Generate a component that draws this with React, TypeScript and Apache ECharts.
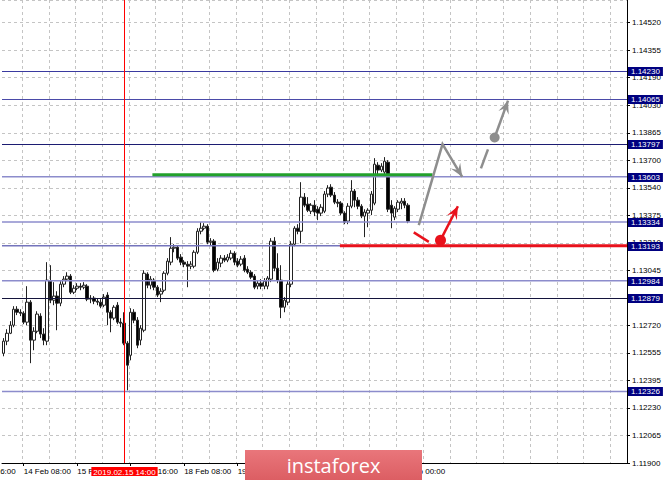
import React, { useEffect, useRef } from "react";
import * as echarts from "echarts";

// ---- price data (EURUSD H1) ----
const openPrices = [
  1.12553, 1.12625, 1.12672, 1.1272, 1.12815, 1.12797, 1.12791, 1.12738, 1.12857, 1.12631,
  1.12684, 1.12774, 1.12667, 1.12625, 1.12982, 1.12869, 1.12893, 1.12851, 1.12964, 1.12994,
  1.13012, 1.12916, 1.1294, 1.12952, 1.12946, 1.12952, 1.12875, 1.12881, 1.12863, 1.12857,
  1.12839, 1.12899, 1.12797, 1.12762, 1.12839, 1.12738, 1.12732, 1.12613, 1.12541, 1.12797,
  1.1275, 1.12631, 1.1269, 1.13024, 1.12958, 1.12988, 1.12946, 1.12905, 1.12928, 1.13029,
  1.13095, 1.13178, 1.13184, 1.13125, 1.13095, 1.13083, 1.13071, 1.13071, 1.13154, 1.13279,
  1.13297, 1.13309, 1.13214, 1.1322, 1.13053, 1.13089, 1.13119, 1.13107, 1.13119, 1.13148,
  1.13101, 1.13083, 1.13119, 1.13053, 1.13035, 1.13012, 1.12952, 1.1297, 1.12952, 1.12952,
  1.12994, 1.1322, 1.13059, 1.12988, 1.12827, 1.12857, 1.12964, 1.13202, 1.13297, 1.13279,
  1.13482, 1.1344, 1.13398, 1.13434, 1.1341, 1.13387, 1.13398, 1.135, 1.13541, 1.13494,
  1.13452, 1.13446, 1.13387, 1.13339, 1.13428, 1.13518, 1.13464, 1.13428, 1.13369, 1.13387,
  1.13404, 1.13446, 1.13672, 1.13643, 1.13631, 1.1369, 1.13434, 1.13363, 1.1341, 1.13446,
  1.13458, 1.13434,
];
const closePrices = [
  1.12625, 1.12672, 1.1272, 1.12815, 1.12797, 1.12791, 1.12738, 1.12857, 1.12631, 1.12684,
  1.12786, 1.12667, 1.12631, 1.12988, 1.12869, 1.12893, 1.12851, 1.12964, 1.12994, 1.13012,
  1.12916, 1.1294, 1.12952, 1.12946, 1.12958, 1.12875, 1.12881, 1.12863, 1.12857, 1.12833,
  1.12887, 1.12797, 1.12762, 1.12827, 1.12738, 1.12732, 1.12613, 1.12482, 1.12797, 1.1275,
  1.12601, 1.12702, 1.13029, 1.12958, 1.12994, 1.12946, 1.12899, 1.12922, 1.13029, 1.13101,
  1.13178, 1.13184, 1.13119, 1.13095, 1.13083, 1.13071, 1.13083, 1.13154, 1.13279, 1.13297,
  1.13309, 1.13214, 1.1322, 1.13047, 1.13095, 1.13119, 1.13107, 1.13125, 1.13148, 1.13095,
  1.13077, 1.13113, 1.13047, 1.13035, 1.13006, 1.12946, 1.1297, 1.12952, 1.12982, 1.13,
  1.1322, 1.13059, 1.12988, 1.12827, 1.12869, 1.12964, 1.13202, 1.13297, 1.13279, 1.13482,
  1.13434, 1.13404, 1.13434, 1.13393, 1.13387, 1.13422, 1.135, 1.13536, 1.13494, 1.13452,
  1.13446, 1.13387, 1.13333, 1.13428, 1.13518, 1.13464, 1.13428, 1.13369, 1.13393, 1.13404,
  1.135, 1.13678, 1.13643, 1.13666, 1.13696, 1.1341, 1.13387, 1.13416, 1.13452, 1.13458,
  1.13434, 1.13339,
];
const highPrices = [
  1.12643, 1.12696, 1.12744, 1.12833, 1.12833, 1.12815, 1.12803, 1.12952, 1.12869, 1.12708,
  1.12803, 1.12791, 1.12702, 1.13095, 1.13077, 1.12976, 1.12922, 1.12982, 1.13012, 1.13035,
  1.13024, 1.12958, 1.1297, 1.1297, 1.12976, 1.12964, 1.12899, 1.12893, 1.12881, 1.12875,
  1.12905, 1.12916, 1.12809, 1.12839, 1.12857, 1.12762, 1.12797, 1.12625, 1.12821, 1.12815,
  1.12768, 1.1272, 1.13047, 1.13035, 1.13012, 1.13, 1.12958, 1.1294, 1.13041, 1.13119,
  1.13244, 1.13202, 1.13196, 1.13143, 1.13107, 1.13101, 1.13101, 1.13166, 1.13297, 1.13333,
  1.13327, 1.13321, 1.13238, 1.13232, 1.13119, 1.13137, 1.13137, 1.13143, 1.13166, 1.1316,
  1.13119, 1.13131, 1.13137, 1.13071, 1.13047, 1.13024, 1.12988, 1.12994, 1.13, 1.13012,
  1.13238, 1.13244, 1.13148, 1.13077, 1.12887, 1.12982, 1.1322, 1.13309, 1.13321, 1.13571,
  1.13506, 1.13482, 1.13446, 1.13464, 1.13428, 1.1344, 1.13518, 1.13553, 1.13559, 1.13512,
  1.1347, 1.13458, 1.13398, 1.13446, 1.13583, 1.1353, 1.13482, 1.1344, 1.1341, 1.13416,
  1.13518, 1.13714, 1.1369, 1.13684, 1.1372, 1.13702, 1.13464, 1.13428, 1.13464, 1.13476,
  1.13476, 1.13446,
];
const lowPrices = [
  1.12535, 1.12601, 1.12667, 1.12708, 1.1278, 1.12774, 1.12726, 1.1272, 1.12494, 1.12571,
  1.12672, 1.12643, 1.12601, 1.12601, 1.12851, 1.12839, 1.1269, 1.12833, 1.12946, 1.12982,
  1.12905, 1.12905, 1.12928, 1.12928, 1.12934, 1.12863, 1.12851, 1.12845, 1.12839, 1.12821,
  1.12827, 1.1272, 1.12678, 1.1275, 1.12726, 1.12708, 1.12601, 1.12332, 1.12511, 1.12732,
  1.12583, 1.12601, 1.12678, 1.1294, 1.12934, 1.12928, 1.12887, 1.12857, 1.12916, 1.13017,
  1.13077, 1.13154, 1.13107, 1.13077, 1.13065, 1.12946, 1.13053, 1.13059, 1.13143, 1.13261,
  1.13285, 1.13202, 1.13196, 1.13035, 1.13041, 1.13065, 1.13095, 1.13095, 1.13107, 1.13077,
  1.13065, 1.13071, 1.13035, 1.13024, 1.12994, 1.12934, 1.12934, 1.12934, 1.12934, 1.12934,
  1.12976, 1.13041, 1.1297, 1.12762, 1.12797, 1.12839, 1.12946, 1.1319, 1.13261, 1.13208,
  1.13422, 1.13393, 1.13381, 1.13369, 1.13345, 1.13369, 1.13387, 1.13482, 1.13482, 1.1344,
  1.13422, 1.13375, 1.13321, 1.13321, 1.13416, 1.13422, 1.1341, 1.13357, 1.13244, 1.13303,
  1.13375, 1.13434, 1.13613, 1.13631, 1.13613, 1.13393, 1.13297, 1.13345, 1.13393, 1.1341,
  1.13416, 1.13327,
];

// ---- axes ----
const yTickLabels = [
  "1.11900", "1.12065", "1.12230", "1.12395", "1.12555", "1.12720", "1.12885", "1.13045",
  "1.13210", "1.13375", "1.13540", "1.13700", "1.13865", "1.14030", "1.14190", "1.14355",
  "1.14520", "",
];
const Y_MIN = 1.119;
const Y_STEP = 0.0016375;
const Y_MAX = 1.14655;

const TOTAL_SLOTS = 187;
const FIRST_LABEL = 6;
const LABEL_EVERY = 16;
const GRID_EVERY = 8;
const leftCutLabel = "13 Feb 16:00";

// ---- horizontal levels ----
const levelValues = [1.1423, 1.14065, 1.13797, 1.13603, 1.13334, 1.13193, 1.12984, 1.12879, 1.12326];
const levelColors = ["#3a3aa0", "#4a4aa8", "#1c1c72", "#8c8ccc", "#8c8ccc", "#7474bc", "#8c8ccc", "#14143c", "#8c8ccc"];
const levelWidths = [1, 1, 1, 1.5, 1.5, 1.5, 1.5, 1, 1.5];

const greenLevel = 1.13615;
const greenFrom = 44.5;
const greenTo = 128.3;
const redLevel = 1.13193;
const redFrom = 100.6;
const redTo = 186.5;
const crosshairIndex = 36;
const crosshairLabel = "2019.02.15 14:00";

// ---- forecast arrows: [bar index, price] ----
const grayPath = [[124.2, 1.13315], [131.3, 1.13797], [137.2, 1.13603]];
const grayDash = [[142.8, 1.13653], [144.9, 1.13766]];
const grayDot = [146.9, 1.13837];
const grayTip = [150.9, 1.14056];
const redDash = [[122.7, 1.13272], [127.2, 1.13216]];
const redDot = [130.7, 1.13226];
const redTip = [135.9, 1.13428];

const MONTHS = ["Jan", "Feb", "Mar", "Apr", "May", "Jun", "Jul", "Aug", "Sep", "Oct", "Nov", "Dec"];
function buildCategories(): string[] {
  const out: string[] = [];
  let t = Date.UTC(2019, 1, 14, 2);
  while (out.length < TOTAL_SLOTS) {
    const d = new Date(t);
    const wd = d.getUTCDay();
    if (wd !== 0 && wd !== 6) {
      const hh = String(d.getUTCHours()).padStart(2, "0");
      out.push(`${d.getUTCDate()} ${MONTHS[d.getUTCMonth()]} ${hh}:00`);
    }
    t += 3600000;
  }
  return out;
}

const FONT = "Liberation Sans";
const GRAY = "#8e8e8e";
const RED = "#e8121c";

function arrowHead(from: number[], to: number[], len: number, half: number) {
  const dx = to[0] - from[0];
  const dy = to[1] - from[1];
  const L = Math.hypot(dx, dy) || 1;
  const ux = dx / L, uy = dy / L;
  const nx = -uy, ny = ux;
  return [
    [to[0], to[1]],
    [to[0] - len * ux + half * nx, to[1] - len * uy + half * ny],
    [to[0] - len * 0.6 * ux, to[1] - len * 0.6 * uy],
    [to[0] - len * ux - half * nx, to[1] - len * uy - half * ny],
  ];
}

export default function App() {
  const ref = useRef<HTMLDivElement>(null);
  useEffect(() => {
    if (!ref.current) return;
    const chart = echarts.init(ref.current, null, { renderer: "svg" });
    const categories = buildCategories();
    const candles = openPrices.map((o, i) => [o, closePrices[i], lowPrices[i], highPrices[i]]);
    const nBars = openPrices.length;
    const isLabel = (i: number) => i < nBars && i >= FIRST_LABEL && (i - FIRST_LABEL) % LABEL_EVERY === 0;
    const isGrid = (i: number) => i >= FIRST_LABEL && (i - FIRST_LABEL) % GRID_EVERY === 0;

    chart.setOption({
      animation: false,
      backgroundColor: "#ffffff",
      textStyle: { fontFamily: FONT },
      grid: { left: 2, right: 38, top: 0, bottom: 18, containLabel: false },
      xAxis: {
        type: "category",
        data: categories,
        boundaryGap: true,
        axisLine: { show: true, lineStyle: { color: "#000000", width: 1 } },
        axisTick: { show: true, alignWithLabel: true, length: 3, interval: (i: number) => isLabel(i), lineStyle: { color: "#000" } },
        axisLabel: {
          show: true,
          interval: (i: number) => isLabel(i),
          align: "left",
          margin: 4,
          fontSize: 8,
          color: "#000000",
          fontFamily: FONT,
        },
        splitLine: {
          show: true,
          interval: (i: number) => isGrid(i),
          lineStyle: { color: "#c4c4c4", type: [3, 3], width: 1 },
        },
      },
      yAxis: {
        type: "value",
        position: "right",
        min: Y_MIN,
        max: Y_MAX,
        interval: Y_STEP,
        axisLine: { show: true, lineStyle: { color: "#000000", width: 1 } },
        axisTick: { show: true, length: 3, lineStyle: { color: "#000" } },
        axisLabel: {
          margin: 5,
          fontSize: 8,
          color: "#000000",
          fontFamily: FONT,
          showMaxLabel: false,
          formatter: (v: number) => {
            const k = (v - Y_MIN) / Y_STEP;
            return Math.abs(k - Math.round(k)) < 0.01 ? yTickLabels[Math.round(k)] ?? "" : "";
          },
        },
        splitLine: { show: true, lineStyle: { color: "#c4c4c4", type: [3, 3], width: 1 } },
      },
      series: [
        {
          type: "candlestick",
          data: candles,
          barWidth: 3,
          itemStyle: {
            color: "#ffffff",
            color0: "#000000",
            borderColor: "#222222",
            borderColor0: "#222222",
            borderWidth: 1,
          },
        },
      ],
    });

    const x0 = chart.convertToPixel({ xAxisIndex: 0 } as any, 0) as unknown as number;
    const x1 = chart.convertToPixel({ xAxisIndex: 0 } as any, 1) as unknown as number;
    const px = (i: number) => x0 + i * (x1 - x0);
    const py = (p: number) => chart.convertToPixel({ yAxisIndex: 0 } as any, p) as unknown as number;
    const pt = (a: number[]) => [px(a[0]), py(a[1])];
    const plotLeft = px(-0.5);
    const plotRight = px(TOTAL_SLOTS - 0.5);
    const bottomY = py(Y_MIN);
    const crisp = (v: number) => Math.round(v) + 0.5;

    const gp = grayPath.map(pt);
    const gd = grayDash.map(pt);
    const gDot = pt(grayDot);
    const gTip = pt(grayTip);
    const rd = redDash.map(pt);
    const rDot = pt(redDot);
    const rTip = pt(redTip);

    const levelGraphics: any[] = [];
    levelValues.forEach((v, k) => {
      const y = levelWidths[k] === 1 ? crisp(py(v)) : py(v);
      levelGraphics.push({
        type: "line",
        z: 20,
        shape: { x1: plotLeft, y1: y, x2: plotRight, y2: y },
        style: { stroke: levelColors[k], lineWidth: levelWidths[k] },
      });
    });
    const greenY = py(greenLevel);
    const redY = py(redLevel);
    levelGraphics.push({
      type: "line",
      z: 22,
      shape: { x1: px(greenFrom), y1: greenY, x2: px(greenTo), y2: greenY },
      style: { stroke: "#23a12c", lineWidth: 3 },
    });
    levelGraphics.push({
      type: "line",
      z: 22,
      shape: { x1: px(redFrom), y1: redY, x2: px(redTo), y2: redY },
      style: { stroke: RED, lineWidth: 3 },
    });
    levelValues.forEach((v) => {
      levelGraphics.push({
        type: "text",
        z: 60,
        style: {
          x: plotRight + 1,
          y: Math.round(py(v)) + 0.5,
          text: v.toFixed(5),
          fontSize: 8,
          fontFamily: FONT,
          fill: "#ffffff",
          backgroundColor: "#000080",
          padding: [1, 3, 0, 3],
          textVerticalAlign: "middle",
        },
      });
    });
    const cx = crisp(px(crosshairIndex));
    levelGraphics.push({
      type: "line",
      z: 23,
      shape: { x1: cx, y1: 0, x2: cx, y2: bottomY },
      style: { stroke: "#ff0000", lineWidth: 1 },
    });
    levelGraphics.push({
      type: "text",
      z: 60,
      style: {
        x: cx,
        y: bottomY + 4,
        text: crosshairLabel,
        fontSize: 8,
        fontFamily: FONT,
        fill: "#ffffff",
        backgroundColor: "#ff0000",
        padding: [1, 2, 0, 2],
        textAlign: "center",
        textVerticalAlign: "top",
      },
    });

    chart.setOption({
      graphic: [
        ...levelGraphics,
        {
          type: "polyline",
          z: 50,
          shape: { points: gp },
          style: { stroke: GRAY, lineWidth: 2.5, fill: null, lineJoin: "miter" },
        },
        { type: "polygon", z: 51, shape: { points: arrowHead(gp[1], gp[2], 13, 5.5) }, style: { fill: GRAY } },
        { type: "line", z: 50, shape: { x1: gd[0][0], y1: gd[0][1], x2: gd[1][0], y2: gd[1][1] }, style: { stroke: GRAY, lineWidth: 2.5 } },
        { type: "circle", z: 51, shape: { cx: gDot[0], cy: gDot[1], r: 5 }, style: { fill: GRAY } },
        { type: "line", z: 50, shape: { x1: gDot[0], y1: gDot[1], x2: gTip[0], y2: gTip[1] }, style: { stroke: GRAY, lineWidth: 2.5 } },
        { type: "polygon", z: 51, shape: { points: arrowHead(gDot, gTip, 13, 5.5) }, style: { fill: GRAY } },
        { type: "line", z: 50, shape: { x1: rd[0][0], y1: rd[0][1], x2: rd[1][0], y2: rd[1][1] }, style: { stroke: RED, lineWidth: 2.5 } },
        { type: "circle", z: 51, shape: { cx: rDot[0], cy: rDot[1], r: 5.5 }, style: { fill: RED } },
        { type: "line", z: 50, shape: { x1: rDot[0], y1: rDot[1], x2: rTip[0], y2: rTip[1] }, style: { stroke: RED, lineWidth: 2.5 } },
        { type: "polygon", z: 51, shape: { points: arrowHead(rDot, rTip, 13, 5.5) }, style: { fill: RED } },
        {
          type: "text",
          z: 40,
          style: {
            x: px(FIRST_LABEL - LABEL_EVERY) - 1.7,
            y: bottomY + 4,
            text: leftCutLabel,
            fontSize: 8,
            fontFamily: FONT,
            fill: "#000000",
            textVerticalAlign: "top",
          },
        },
        {
          type: "rect",
          z: 100,
          shape: { x: 245, y: 450, width: 177, height: 30 },
          style: {
            fill: new echarts.graphic.LinearGradient(0, 0, 0, 1, [
              { offset: 0, color: "#e9767b" },
              { offset: 1, color: "#dc5e63" },
            ]),
          },
        },
        {
          type: "text",
          z: 101,
          style: {
            x: 333.5,
            y: 465,
            text: "instaforex",
            fontSize: 20,
            fontFamily: "Open Sans",
            fill: "#ffffff",
            textAlign: "center",
            textVerticalAlign: "middle",
          },
        },
      ],
    });

    return () => chart.dispose();
  }, []);

  return (
    <div
      ref={ref}
      style={{ position: "absolute", left: 0, top: 0, width: 665, height: 481, background: "#ffffff" }}
    />
  );
}
